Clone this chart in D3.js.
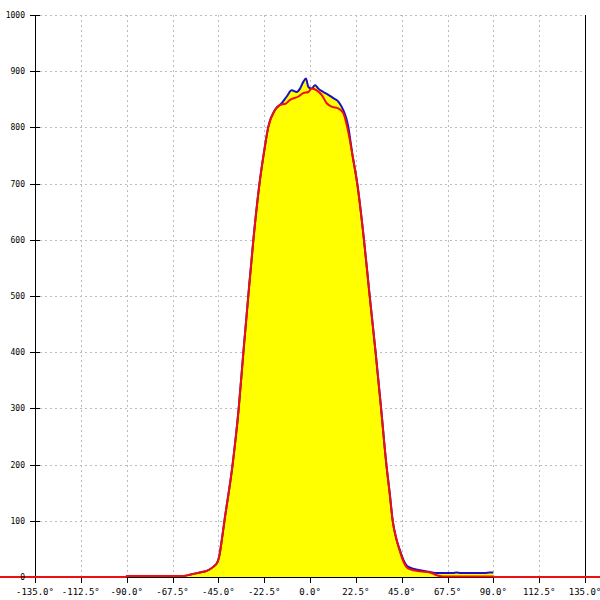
<!DOCTYPE html>
<html>
<head>
<meta charset="utf-8">
<script src="https://cdn.jsdelivr.net/npm/d3@7"></script>
<style>
  html, body { margin: 0; padding: 0; background: #fff; }
  svg { display: block; }
</style>
</head>
<body>
<svg id="chart" width="600" height="600"></svg>
<script>
// ---- data ----
const xTicks = [-135, -112.5, -90, -67.5, -45, -22.5, 0, 22.5, 45, 67.5, 90, 112.5, 135];
const xTickLabels = ["-135.0°", "-112.5°", "-90.0°", "-67.5°", "-45.0°", "-22.5°", "0.0°", "22.5°", "45.0°", "67.5°", "90.0°", "112.5°", "135.0°"];
const yTicks = [0, 100, 200, 300, 400, 500, 600, 700, 800, 900, 1000];
const yTickLabels = ["0", "100", "200", "300", "400", "500", "600", "700", "800", "900", "1000"];

const redAngles = [-180, -90.5, -90, -80, -70, -62, -58, -54, -50.7, -47.5, -45.5, -44.5, -43.3, -42.0, -38.0, -35.0, -32.7, -30.3, -27.8, -24.8, -22.4, -20.5, -17.2, -14.7, -12, -9.8, -5.7, -3.3, -0.8, 0.8, 3.3, 5.7, 8.2, 10.6, 13.9, 16.4, 18.3, 20.8, 23.2, 26.5, 29.3, 32.2, 34.9, 37.5, 39.1, 40.6, 42.6, 44.2, 45.8, 48.3, 54, 58.9, 62.2, 65, 90, 90.5, 180];
const redValues = [0, 0, 2, 2, 2, 2, 5, 8, 11, 18, 26, 38, 66, 100, 200, 300, 400, 500, 600, 700, 760, 800, 831, 840, 842, 849, 855, 861, 863, 869, 866, 858, 843, 837, 834, 825, 800, 752, 700, 600, 500, 400, 300, 200, 150, 100, 65, 45, 28, 15, 10, 8, 3, 1, 1, 0, 0];

const blueAngles = [-90, -80, -70, -62, -58, -54, -50.7, -47.5, -45.5, -44.5, -43.3, -42.0, -38.0, -35.0, -32.7, -30.3, -27.8, -24.8, -22.4, -20.5, -17.2, -13.9, -11.4, -9, -6.5, -4.9, -3.3, -2, -0.8, 0.8, 2.5, 4.1, 6.5, 9, 11.5, 13.9, 15.5, 17.0, 18.6, 20.8, 23.2, 26.5, 29.3, 32.2, 34.9, 37.5, 39.1, 40.6, 42.6, 44.2, 45.8, 48.3, 54, 58.9, 62.2, 67, 70, 72, 74, 86, 88, 90];
const blueValues = [2, 2, 2, 2, 5, 8, 11, 18, 26, 38, 66, 100, 200, 300, 400, 500, 600, 700, 760, 801, 831, 843, 855, 866, 863, 869, 881, 887, 872, 869, 875, 869, 863, 858, 852, 846, 837, 825, 805, 752, 700, 600, 500, 400, 300, 200, 150, 100, 65, 47, 31, 18, 12, 9, 7, 7, 7, 8, 7, 7, 8, 8];

// ---- layout ----
const svg = d3.select("#chart");
const x = d3.scaleLinear().domain([-135, 135]).range([35, 585]);
const y = d3.scaleLinear().domain([0, 1000]).range([577, 15]);

const red = redAngles.map((a, i) => ({ a, v: redValues[i] }));
const blue = blueAngles.map((a, i) => ({ a, v: blueValues[i] }));

// grid
const grid = svg.append("g");
grid.selectAll("line.v").data(xTicks.filter(t => t > -135 && t < 135)).join("line")
  .attr("x1", d => Math.round(x(d)) + 0.5).attr("x2", d => Math.round(x(d)) + 0.5)
  .attr("y1", y(1000)).attr("y2", y(0))
  .attr("stroke", "#bdbdbd").attr("stroke-width", 1).attr("stroke-dasharray", "2,3");
grid.selectAll("line.h").data(yTicks.filter(t => t > 0)).join("line")
  .attr("x1", x(-135)).attr("x2", x(135))
  .attr("y1", d => Math.round(y(d)) + 0.5).attr("y2", d => Math.round(y(d)) + 0.5)
  .attr("stroke", "#bdbdbd").attr("stroke-width", 1).attr("stroke-dasharray", "2,3");

// fill under blue
const area = d3.area().curve(d3.curveMonotoneX).x(d => x(d.a)).y0(y(0)).y1(d => y(d.v));
svg.append("path").datum(blue).attr("d", area).attr("fill", "#ffff00");

// axes
const axisG = svg.append("g").attr("stroke", "#000").attr("stroke-width", 1);
axisG.append("line").attr("x1", Math.round(x(-135)) + 0.5).attr("x2", Math.round(x(-135)) + 0.5)
  .attr("y1", y(1000)).attr("y2", y(0) + 6);
axisG.append("line").attr("x1", Math.round(x(135)) + 0.5).attr("x2", Math.round(x(135)) + 0.5)
  .attr("y1", y(1000)).attr("y2", y(0) + 6);
axisG.append("line").attr("x1", 0).attr("x2", 600).attr("y1", y(0) + 0.5).attr("y2", y(0) + 0.5);
axisG.selectAll("line.xt").data(xTicks).join("line")
  .attr("x1", d => Math.round(x(d)) + 0.5).attr("x2", d => Math.round(x(d)) + 0.5)
  .attr("y1", y(0)).attr("y2", y(0) + 6);
axisG.selectAll("line.yt").data(yTicks).join("line")
  .attr("x1", 30).attr("x2", 40)
  .attr("y1", d => Math.round(y(d)) + 0.5).attr("y2", d => Math.round(y(d)) + 0.5);

// lines
const line = d3.line().curve(d3.curveMonotoneX).x(d => x(d.a)).y(d => y(d.v));
svg.append("path").datum(blue).attr("d", line).attr("fill", "none")
  .attr("stroke", "#1a10c8").attr("stroke-width", 2).attr("stroke-linejoin", "round");
svg.append("path").datum(red).attr("d", line).attr("fill", "none")
  .attr("stroke", "#ee1010").attr("stroke-width", 2).attr("stroke-linejoin", "round");

// labels
svg.append("g").selectAll("text").data(xTicks).join("text")
  .attr("x", d => x(d)).attr("y", 595)
  .attr("text-anchor", "middle")
  .attr("font-family", "DejaVu Sans Mono, monospace").attr("font-size", 9)
  .attr("fill", "#000")
  .text((d, i) => xTickLabels[i]);
svg.append("g").selectAll("text").data(yTicks).join("text")
  .attr("x", 25).attr("y", d => y(d) + 3)
  .attr("text-anchor", "end")
  .attr("font-family", "DejaVu Sans Mono, monospace").attr("font-size", 8)
  .attr("fill", "#000")
  .text((d, i) => yTickLabels[i]);
</script>
</body>
</html>
